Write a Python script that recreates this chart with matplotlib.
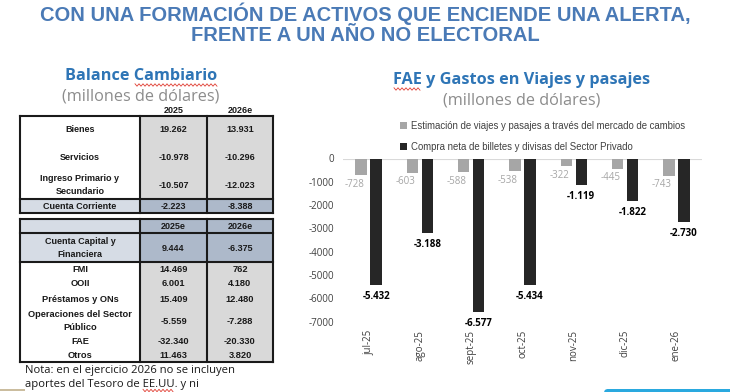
import matplotlib
matplotlib.use("Agg")
import matplotlib.pyplot as plt
from matplotlib.patches import Rectangle, FancyBboxPatch
from matplotlib.lines import Line2D

# --- datos del grafico de barras (millones de USD) ---
meses = ['jul-25', 'ago-25', 'sept-25', 'oct-25', 'nov-25', 'dic-25', 'ene-26']
viajes = [-728, -603, -588, -538, -322, -445, -743]
compra_neta = [-5432, -3188, -6577, -5434, -1119, -1822, -2730]
serie_nombres = ['Estimación de viajes y pasajes a través del mercado de cambios',
                 'Compra neta de billetes y divisas del Sector Privado']
yticks = [0, -1000, -2000, -3000, -4000, -5000, -6000, -7000]

# --- datos de la tabla (Balance Cambiario) ---
cc_filas = ['Bienes', 'Servicios', 'Ingreso Primario y\nSecundario']
cc_2025 = [19262, -10978, -10507]
cc_2026 = [13931, -10296, -12023]
cuenta_corriente = ['Cuenta Corriente', -2223, -8388]
cuenta_capital = ['Cuenta Capital y\nFinanciera', 9444, -6375]
fin_filas = ['FMI', 'OOII', 'Préstamos y ONs', 'Operaciones del Sector\nPúblico', 'FAE', 'Otros']
fin_2025 = [14469, 6001, 15409, -5559, -32340, 11463]
fin_2026 = [762, 4180, 12480, -7288, -20330, 3820]

W, H = 730, 392
BLUE_TITLE = '#4a7ab6'
BLUE_SUB = '#2e75b6'
GRAY_SUB = '#8c8c8c'


def miles(v):
    # formato argentino: punto como separador de miles
    return f"{v:,.0f}".replace(',', '.')


def squiggle(x0, x1, y, amp=1.2, step=2.0):
    # subrayado ondulado rojo del corrector ortografico
    xs, ys = [], []
    k = 0
    xx = x0
    while xx <= x1:
        xs.append(xx)
        ys.append(y + (amp if k % 2 else -amp))
        xx += step
        k += 1
    bg.add_line(Line2D(xs, ys, color='#e03c31', lw=0.6, zorder=4))


fig = plt.figure(figsize=(W / 100, H / 100), dpi=100)
fig.patch.set_facecolor('white')

# capa de fondo en pixeles para titulos y tabla
bg = fig.add_axes([0, 0, 1, 1])
bg.set_xlim(0, W)
bg.set_ylim(H, 0)
bg.axis('off')

bg.text(365, 14, 'CON UNA FORMACIÓN DE ACTIVOS QUE ENCIENDE UNA ALERTA,', ha='center', va='center',
        fontsize=14.5, fontweight='bold', color=BLUE_TITLE, family='Liberation Sans')
bg.text(365, 35, 'FRENTE A UN AÑO NO ELECTORAL', ha='center', va='center',
        fontsize=14.5, fontweight='bold', color=BLUE_TITLE, family='Liberation Sans')

# subtitulos
bg.text(141, 76, 'Balance Cambiario', ha='center', va='center', fontsize=11.7,
        fontweight='bold', color=BLUE_SUB, family='Open Sans')
bg.text(141, 96, '(millones de dólares)', ha='center', va='center', fontsize=11.7,
        color=GRAY_SUB, family='Open Sans')
bg.text(522, 80, 'FAE y Gastos en Viajes y pasajes', ha='center', va='center', fontsize=11.7,
        fontweight='bold', color=BLUE_SUB, family='Open Sans')
bg.text(522, 100, '(millones de dólares)', ha='center', va='center', fontsize=11.7,
        color=GRAY_SUB, family='Open Sans')
squiggle(135, 217, 85)
squiggle(394, 420, 89)

# --- tabla ---
c0, c1, c2, c3 = 20, 140, 207, 273
GRIS = '#d9d9d9'
AZUL_CLARO = '#d6dce5'
AZUL_OSC = '#adb9ca'
EDGE = '#1a1a1a'
tfont = dict(fontsize=6.5, fontweight='bold', color='#1a1a1a', family='Liberation Sans',
             ha='center', va='center', linespacing=1.55)


def fill(x0, x1, y0, y1, color):
    bg.add_patch(Rectangle((x0, y0), x1 - x0, y1 - y0, facecolor=color, edgecolor='none', zorder=1))


def hline(x0, x1, y):
    bg.add_line(Line2D([x0, x1], [y, y], color=EDGE, lw=1.5, zorder=3, solid_capstyle='projecting'))


def vline(x, y0, y1):
    bg.add_line(Line2D([x, x], [y0, y1], color=EDGE, lw=1.5, zorder=3, solid_capstyle='projecting'))


# tabla 1: cuenta corriente
bg.text((c1 + c2) / 2, 110, '2025', **tfont)
bg.text((c2 + c3) / 2, 110, '2026e', **tfont)
t1_top, cc_y0, t1_bot = 116, 199, 213
fill(c1, c3, t1_top, cc_y0, GRIS)
fill(c0, c1, cc_y0, t1_bot, AZUL_CLARO)
fill(c1, c3, cc_y0, t1_bot, AZUL_OSC)
for y, lab, a, b in zip([130, 157, 185], cc_filas, cc_2025, cc_2026):
    bg.text((c0 + c1) / 2, y, lab, **tfont)
    bg.text((c1 + c2) / 2, y, miles(a), **tfont)
    bg.text((c2 + c3) / 2, y, miles(b), **tfont)
ymid = (cc_y0 + t1_bot) / 2
bg.text((c0 + c1) / 2, ymid, cuenta_corriente[0], **tfont)
bg.text((c1 + c2) / 2, ymid, miles(cuenta_corriente[1]), **tfont)
bg.text((c2 + c3) / 2, ymid, miles(cuenta_corriente[2]), **tfont)
for y in (t1_top, cc_y0, t1_bot):
    hline(c0, c3, y)
for x in (c0, c1, c2, c3):
    vline(x, t1_top, t1_bot)

# tabla 2: cuenta capital y financiera
t2_top, hd_bot, ccf_bot, t2_bot = 219, 233, 262, 362
fill(c0, c1, t2_top, ccf_bot, AZUL_CLARO)
fill(c1, c3, t2_top, ccf_bot, AZUL_OSC)
fill(c1, c3, ccf_bot, t2_bot, GRIS)
bg.text((c1 + c2) / 2, 226, '2025e', **tfont)
bg.text((c2 + c3) / 2, 226, '2026e', **tfont)
bg.text((c0 + c1) / 2, 248, cuenta_capital[0], **tfont)
bg.text((c1 + c2) / 2, 248, miles(cuenta_capital[1]), **tfont)
bg.text((c2 + c3) / 2, 248, miles(cuenta_capital[2]), **tfont)
fin_font = dict(tfont, fontsize=6.7)
for y, lab, a, b in zip([270, 284, 299, 321, 341, 355], fin_filas, fin_2025, fin_2026):
    bg.text((c0 + c1) / 2, y, lab, **fin_font)
    bg.text((c1 + c2) / 2, y, miles(a), **fin_font)
    bg.text((c2 + c3) / 2, y, miles(b), **fin_font)
for y in (t2_top, hd_bot, ccf_bot, t2_bot):
    hline(c0, c3, y)
for x in (c0, c1, c2, c3):
    vline(x, t2_top, t2_bot)

bg.text(25, 370, 'Nota: en el ejercicio 2026 no se incluyen', ha='left', va='center',
        fontsize=8.1, color='#1a1a1a', family='Open Sans')
bg.text(25, 385, 'aportes del Tesoro de EE.UU. y ni', ha='left', va='center',
        fontsize=8.1, color='#1a1a1a', family='Open Sans')
squiggle(143, 174, 390.5)

# adornos de la diapositiva
bg.add_patch(Rectangle((0, 388.5), 25, 2, facecolor='#cbbd9f', edgecolor='none'))
bg.add_patch(FancyBboxPatch((604, 389), 140, 10, boxstyle='round,pad=0,rounding_size=4',
                            facecolor='#2aa9df', edgecolor='none', clip_on=False))

# --- grafico de barras ---
ax = fig.add_axes([343 / W, 1 - 321.7 / H, (702 - 343) / W, (321.7 - 158.5) / H])
ax.patch.set_alpha(0)
x = list(range(len(meses)))
bw = 0.225
off = 0.146
ax.bar([i - off for i in x], viajes, width=bw, color='#a6a6a6', label=serie_nombres[0], zorder=2)
ax.bar([i + off for i in x], compra_neta, width=bw, color='#262626', label=serie_nombres[1], zorder=2)
ax.axhline(0, color='#d9d9d9', lw=0.8, zorder=1)

for i, v in zip(x, viajes):
    ax.annotate(str(v), (i - off, v), xytext=(-5, -6.5), textcoords='offset points',
                ha='center', va='center', fontsize=7, color='#a6a6a6', family='Open Sans')
for i, v in zip(x, compra_neta):
    ax.annotate(miles(v), (i + off, v), xytext=(0, -8.5), textcoords='offset points',
                ha='center', va='center', fontsize=7, fontweight='bold', color='#000000',
                family='Open Sans')

ax.set_xlim(-0.5, len(meses) - 0.5)
ax.set_ylim(-7000, 0)
ax.set_yticks(yticks)
ax.set_yticklabels([str(t) for t in yticks], fontsize=7, color='#404040', family='Open Sans')
ax.set_xticks(x)
ax.set_xticklabels(meses, rotation=90, fontsize=7, color='#404040', family='Open Sans',
                   va='top')
ax.tick_params(axis='y', length=0, pad=6.5)
ax.tick_params(axis='x', length=0, pad=6)
for s in ax.spines.values():
    s.set_visible(False)

fig.legend(loc='upper left', bbox_to_anchor=(395 / W, 1 - 116 / H), frameon=False,
           handlelength=0.7, handleheight=0.7, handletextpad=0.45, borderpad=0,
           labelspacing=1.15, prop={'family': 'Liberation Sans', 'size': 6.9},
           labelcolor='#404040')

fig.savefig('out.png', dpi=100, facecolor='white')
